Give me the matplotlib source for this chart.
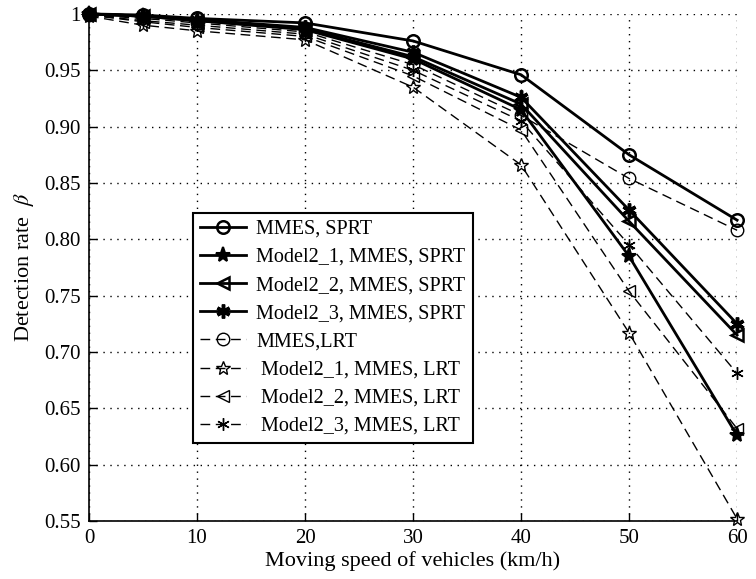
import matplotlib
matplotlib.use("Agg")
from matplotlib import pyplot as plt
from matplotlib.ticker import FixedLocator, FixedFormatter

plt.rcParams['font.family'] = ['Liberation Serif', 'DejaVu Serif']
plt.rcParams['mathtext.fontset'] = 'stix'

speed = [0, 5, 10, 20, 30, 40, 50, 60]

# solid lines: SPRT
mmes_sprt = [1.000, 0.999, 0.996, 0.992, 0.976, 0.946, 0.875, 0.817]
m21_sprt = [1.000, 0.998, 0.994, 0.986, 0.960, 0.915, 0.785, 0.626]
m22_sprt = [1.000, 0.998, 0.994, 0.987, 0.962, 0.920, 0.816, 0.715]
m23_sprt = [1.000, 0.998, 0.995, 0.988, 0.966, 0.926, 0.826, 0.725]
# dashed lines: LRT
mmes_lrt = [0.999, 0.996, 0.992, 0.984, 0.955, 0.910, 0.854, 0.808]
m21_lrt = [0.998, 0.990, 0.985, 0.977, 0.935, 0.866, 0.717, 0.552]
m22_lrt = [0.999, 0.993, 0.988, 0.980, 0.945, 0.897, 0.754, 0.632]
m23_lrt = [0.999, 0.994, 0.990, 0.982, 0.950, 0.905, 0.795, 0.681]

labels = ['MMES, SPRT', 'Model2_1, MMES, SPRT', 'Model2_2, MMES, SPRT',
          'Model2_3, MMES, SPRT', 'MMES,LRT', ' Model2_1, MMES, LRT',
          ' Model2_2, MMES, LRT', ' Model2_3, MMES, LRT']

yticks = [0.55, 0.60, 0.65, 0.70, 0.75, 0.80, 0.85, 0.90, 0.95, 1.0]
ytick_labels = ['0.55', '0.60', '0.65', '0.70', '0.75', '0.80', '0.85',
                '0.90', '0.95', '1']

fig = plt.figure(figsize=(7.56, 5.79), dpi=100)
ax = fig.add_axes([0.1177, 0.100, 0.8573, 0.876])

solid = dict(color='k', lw=2.0, ls='-', clip_on=False)
dashed = dict(color='k', lw=1.0, ls=(0, (7, 4)), clip_on=False)

ax.plot(speed, mmes_sprt, marker='o', ms=9, mfc='none', mew=1.8, label=labels[0], **solid)
ax.plot(speed, m21_sprt, marker='*', ms=11, mfc='k', mew=1.5, label=labels[1], **solid)
ax.plot(speed, m22_sprt, marker='<', ms=9, mfc='none', mew=1.8, label=labels[2], **solid)
ax.plot(speed, m23_sprt, marker=(6, 2, 0), ms=10, mew=2.5, label=labels[3], **solid)
ax.plot(speed, mmes_lrt, marker='o', ms=9, mfc='none', mew=1.0, label=labels[4], **dashed)
ax.plot(speed, m21_lrt, marker='*', ms=10, mfc='none', mew=1.0, label=labels[5], **dashed)
ax.plot(speed, m22_lrt, marker='<', ms=9, mfc='none', mew=1.0, label=labels[6], **dashed)
ax.plot(speed, m23_lrt, marker=(6, 2, 0), ms=9, mew=1.0, label=labels[7], **dashed)

ax.set_xlim(0, 60)
ax.set_ylim(0.55, 1.0)
ax.set_xticks(range(0, 61, 10))
ax.yaxis.set_major_locator(FixedLocator(yticks))
ax.yaxis.set_major_formatter(FixedFormatter(ytick_labels))
ax.tick_params(direction='in', length=6, width=1, labelsize=15, pad=6)
ax.grid(True, color='k', ls=(0, (1, 4)), lw=1.0)

for side in ['top', 'right']:
    ax.spines[side].set_visible(False)
for side in ['left', 'bottom']:
    ax.spines[side].set_linewidth(1.2)

ax.set_xlabel('Moving speed of vehicles (km/h)', fontsize=16, labelpad=2)
ax.set_ylabel(r'Detection rate  $\beta$', fontsize=16, labelpad=6)

leg = ax.legend(loc='lower left', bbox_to_anchor=(0.1605, 0.154), fontsize=14.5,
                numpoints=1, handlelength=2.3, labelspacing=0.45,
                handletextpad=0.5, borderpad=0.35, borderaxespad=0,
                fancybox=False, framealpha=1, edgecolor='k')
leg.get_frame().set_linewidth(1.5)

fig.savefig('out.png', dpi=100)
